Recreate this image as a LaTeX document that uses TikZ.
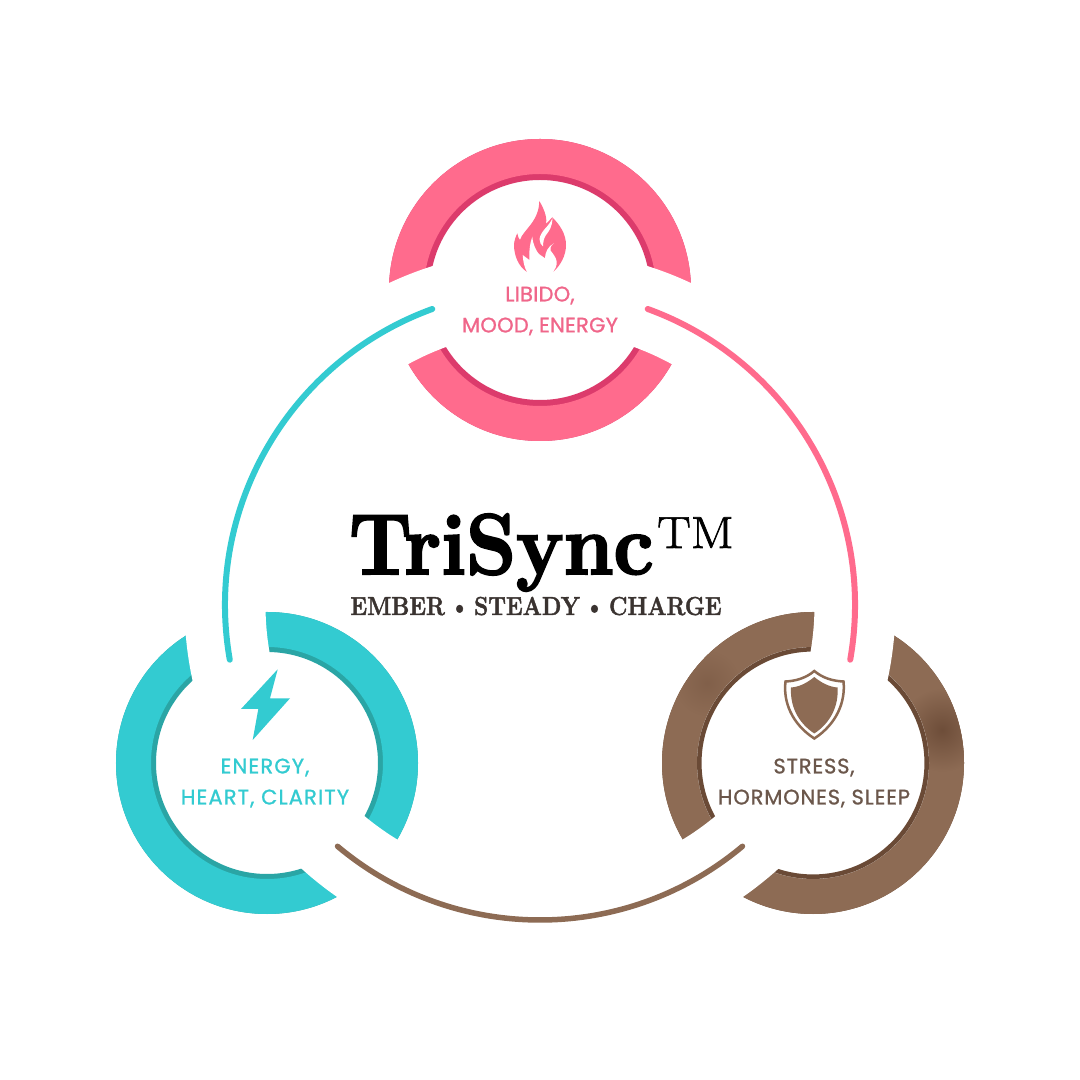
\documentclass[tikz,border=0pt]{standalone}
\usepackage{fontspec}
\usepackage{xcolor}
\usepackage{tikz}
\usetikzlibrary{positioning}
\setmainfont{Latin Modern Roman}
\newfontfamily\pinkfont[FakeBold=1,LetterSpace=1.2]{Poppins}
\newfontfamily\tealfont[FakeBold=1,LetterSpace=5.5]{Poppins}
\newfontfamily\brownfont[FakeBold=1,LetterSpace=4]{Poppins}
\newfontfamily\titlefont[BoldFeatures={FakeBold=2.5,FakeStretch=0.93}]{Latin Modern Roman}
\newfontfamily\markfont[FakeBold=1.5,FakeStretch=1.12]{Latin Modern Roman}
\newfontfamily\brandfont[WordSpace=0.55,BoldFeatures={FakeBold=1.6,FakeStretch=0.87}]{Latin Modern Roman}
\definecolor{pinkmain}{HTML}{FF6B8D}
\definecolor{pinkdark}{HTML}{DC3B6C}
\definecolor{pinktext}{HTML}{F0668A}
\definecolor{tealmain}{HTML}{33CBD1}
\definecolor{tealdark}{HTML}{2AA5A5}
\definecolor{brownmain}{HTML}{8D6B54}
\definecolor{browndark}{HTML}{6A4A36}
\definecolor{browntext}{HTML}{6B574B}
\definecolor{subgrey}{HTML}{3A3330}

\begin{document}
\begin{tikzpicture}[x=1pt, y=1pt,
    ringback/.style={circle, draw, line width=41pt, minimum size=261pt, inner sep=0pt, outer sep=0pt},
    ringfront/.style={circle, draw, line width=35pt, minimum size=267pt, inner sep=0pt, outer sep=0pt},
    tag/.style={align=center, inner sep=0pt},
    link/.style={line width=6pt, line cap=round}]
    \useasboundingbox (0,0) rectangle (1080,1080);
    \fill[white] (0,0) rectangle (1080,1080);
    \coordinate (hub) at (540,475);
    % the three rings
    \node[ringback, draw=pinkdark] (emberback) at (540,790) {};
    \node[ringfront, draw=pinkmain] (ember) at (540,790) {};
    \node[ringback, draw=tealdark, line width=40pt, minimum size=262pt] (chargeback) at (267,317) {};
    \node[ringfront, draw=tealmain] (charge) at (267,317) {};
    \node[ringback, draw=browndark] (steadyback) at (813,317) {};
    \node[ringfront, draw=brownmain] (steady) at (813,317) {};
    % darker patches on the brown ring
    \begin{scope}
        \clip (813,317) circle (151pt);
        \shade[inner color=browndark!90!brownmain, outer color=brownmain] (942,350) circle (42pt);
        \shade[inner color=browndark!35!brownmain, outer color=brownmain] (707,397) circle (34pt);
    \end{scope}
    \node[circle, fill=white, minimum size=232pt, inner sep=0pt] (steadyhole) at (813,317) {};
    \draw[browndark, line width=4.5pt] (813,317) circle (113.7pt);
    % white band that opens the rings
    \draw[white, line width=81pt] (hub) circle (315pt);
    % thin arcs
    \coordinate (tealstart) at ([shift={(110:315)}]hub);
    \coordinate (pinkstart) at ([shift={(70:315)}]hub);
    \coordinate (brownstart) at ([shift={(230:315)}]hub);
    \draw[link, tealmain] (tealstart) arc[start angle=110, end angle=190, radius=315pt];
    \draw[link, pinkmain] (pinkstart) arc[start angle=70, end angle=-10, radius=315pt];
    \draw[link, brownmain, line width=5.5pt] (brownstart) arc[start angle=230, end angle=310, radius=315pt];
    % flame
    \fill[pinkmain] (539.3,879) .. controls (546,868) and (547,860) .. (546,856)
        -- (552.3,862.7) .. controls (560,855) and (566,846) .. (566,835)
        .. controls (566,824) and (560,814) .. (553.3,808.3) -- (526.7,808.3)
        .. controls (519,813) and (514,824) .. (514,835)
        .. controls (514,839) and (516,844) .. (517.3,846.7)
        .. controls (518,843) and (519,841) .. (520,840)
        .. controls (523,850) and (539,858) .. (539.3,879) -- cycle;
    \fill[white] (552.5,862) .. controls (549,853) and (541,850) .. (539.5,841)
        .. controls (539.5,838) and (541,835) .. (543,833.5)
        .. controls (543,838) and (544,842) .. (546,845)
        .. controls (549,849) and (552,852) .. (552.5,862) -- cycle;
    \fill[white] (527,808) .. controls (524,813) and (523,820) .. (522.7,825)
        .. controls (525,823) and (527,822) .. (529.3,820)
        .. controls (529,829) and (530,837) .. (532.3,843.3)
        .. controls (533,835) and (536,830) .. (538.3,826.7)
        .. controls (541,824) and (544,823) .. (545,821.7)
        .. controls (545,827) and (548,834) .. (554,836.7)
        .. controls (550,834) and (550,831) .. (550.7,829.3)
        .. controls (553,826) and (556,823) .. (556.7,818.3)
        .. controls (557,814) and (555,811) .. (553.3,808) -- cycle;
    % bolt
    \fill[tealmain, line join=round] (277.7,410.7) -- (241,371) -- (258.3,371) -- (252.7,340)
        -- (290,381.7) -- (270,381.7) -- cycle;
    % shield
    \draw[brownmain, line width=2.5pt, line join=miter, fill=white] (814.3,409)
        .. controls (806,402) and (796,399) .. (785.5,398.5)
        .. controls (783,378) and (792,356) .. (814.3,341.5)
        .. controls (836.6,356) and (845.6,378) .. (843.5,398.5)
        .. controls (832.6,399) and (822.6,402) .. (814.3,409) -- cycle;
    \fill[brownmain] (814.3,403)
        .. controls (807,397) and (799,393) .. (791,392.5)
        .. controls (790,375) and (797,358) .. (814.3,346.5)
        .. controls (831.6,358) and (838.6,375) .. (837.6,392.5)
        .. controls (829.6,393) and (821.6,397) .. (814.3,403) -- cycle;
    % labels
    \node[tag, text=pinktext, font=\pinkfont\fontsize{21}{31}\selectfont] (libido) at (540,769) {LIBIDO,\\MOOD, ENERGY};
    \node[tag, text=tealmain, font=\tealfont\fontsize{21}{31}\selectfont] (energy) at (265,297) {ENERGY,\\HEART, CLARITY};
    \node[tag, text=browntext, font=\brownfont\fontsize{21}{31}\selectfont] (stress) at (814,297) {STRESS,\\HORMONES, SLEEP};
    % centre title
    \node[inner sep=0pt, anchor=base west, font=\titlefont\bfseries\fontsize{86}{86}\selectfont] (title) at (349,506) {TriSync};
    \node[inner sep=0pt, anchor=base west, font=\markfont\fontsize{45}{45}\selectfont] (mark) at (657,532) {TM};
    \node[inner sep=0pt, anchor=base, font=\brandfont\bfseries\fontsize{26}{26}\selectfont, text=subgrey] (brands) at (536,465) {EMBER • STEADY • CHARGE};
\end{tikzpicture}
\end{document}
